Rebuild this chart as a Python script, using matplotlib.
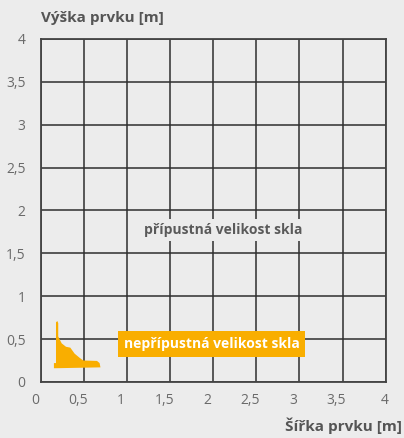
import matplotlib.pyplot as plt
import matplotlib.transforms as mtransforms
from matplotlib.patches import Polygon

plt.rcParams['font.family'] = ['Open Sans', 'DejaVu Sans']

# axis ticks
x_ticks = [0, 0.5, 1, 1.5, 2, 2.5, 3, 3.5, 4]
y_ticks = [0, 0.5, 1, 1.5, 2, 2.5, 3, 3.5, 4]
tick_labels = ['0', '0,5', '1', '1,5', '2', '2,5', '3', '3,5', '4']

# outline of the forbidden region (width, height in m)
shape_w = [0.174, 0.19, 0.20, 0.20, 0.24, 0.29, 0.34, 0.39, 0.45, 0.49,
           0.65, 0.68, 0.69, 0.174, 0.15, 0.15, 0.174]
shape_h = [0.696, 0.71, 0.685, 0.53, 0.45, 0.41, 0.40, 0.33, 0.28, 0.25,
           0.245, 0.22, 0.17, 0.16, 0.16, 0.22, 0.22]

bg = '#ececec'
orange = '#f9ae00'
dark = '#555555'

fig = plt.figure(figsize=(4.04, 4.38), dpi=100, facecolor=bg)
ax = fig.add_axes([0.1015, 0.128, 0.853, 0.783])
ax.set_facecolor(bg)

ax.set_xlim(0, 4)
ax.set_ylim(0, 4)
ax.set_xticks(x_ticks)
ax.set_yticks(y_ticks)
ax.set_xticklabels(tick_labels)
ax.set_yticklabels(tick_labels)
ax.tick_params(length=0, labelsize=10, colors='#6a6a6a')
ax.tick_params(axis='x', pad=8)
ax.tick_params(axis='y', pad=11)
ax.grid(True, color='#2e2e2e', linewidth=1.1)
ax.set_axisbelow(True)
for s in ax.spines.values():
    s.set_color('#444444')
    s.set_linewidth(1.3)

# x labels sit slightly left of their gridlines in the original
for i, lab in enumerate(ax.get_xticklabels()):
    dx = -1 if i == len(x_ticks) - 1 else -6
    lab.set_transform(lab.get_transform() +
                      mtransforms.ScaledTranslation(dx / 100, 0, fig.dpi_scale_trans))

ax.add_patch(Polygon(list(zip(shape_w, shape_h)), closed=True,
                     facecolor=orange, edgecolor='none', zorder=3))

ax.text(2.11, 1.77, 'přípustná velikost skla', ha='center', va='center',
        fontsize=10, fontweight='bold', color='#5a5a5a', zorder=4,
        bbox=dict(boxstyle='square,pad=0.3', facecolor=bg, edgecolor='none'))
ax.text(1.98, 0.44, 'nepřípustná velikost skla', ha='center', va='center',
        fontsize=10, fontweight='bold', color='white', zorder=4,
        bbox=dict(boxstyle='square,pad=0.42', facecolor=orange, edgecolor='none'))

fig.text(41 / 404, 1 - 18 / 438, 'Výška prvku [m]', ha='left', va='center',
         fontsize=11, fontweight='bold', color=dark)
fig.text(402 / 404, 1 - 426 / 438, 'Šířka prvku [m]', ha='right', va='center',
         fontsize=11, fontweight='bold', color=dark)

fig.savefig('out.png', dpi=100, facecolor=bg)
